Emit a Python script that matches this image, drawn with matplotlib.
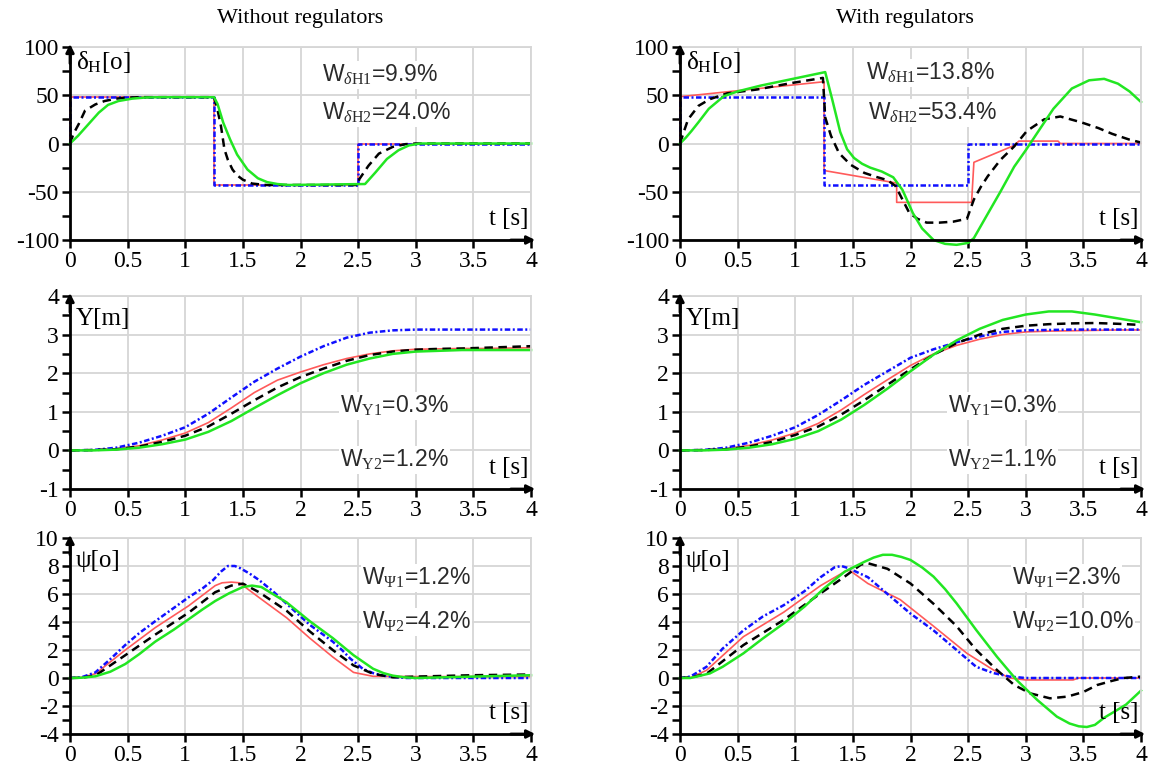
import matplotlib.pyplot as plt
import numpy as np

# ---- data ----
time_ticks = [0, 0.5, 1, 1.5, 2, 2.5, 3, 3.5, 4]
time_labels = ['0', '0.5', '1', '1.5', '2', '2.5', '3', '3.5', '4']

# delta_H, without regulators
dl_blue_t = [0, 0, 1.25, 1.25, 2.5, 2.5, 4]
dl_blue_v = [0, 48, 48, -43, -43, 0, 0]
dl_red_t = [0, 0, 1.25, 1.25, 2.5, 2.5, 4]
dl_red_v = [0, 48, 48, -43, -43, 0, 0]
dl_black_t = [0, 0.03, 0.075, 0.13, 0.22, 0.3, 0.4, 0.5, 0.6, 1.25, 1.28, 1.31, 1.34, 1.37, 1.41,
              1.45, 1.5, 1.58, 1.7, 2.5, 2.51, 2.59, 2.68, 2.8, 2.91, 3.0, 4.0]
dl_black_v = [0, 10, 20, 34, 40.5, 44, 46.5, 47.5, 48, 48, 35, 18, -6, -17, -27,
              -33, -37.5, -41.5, -43, -43, -37, -23, -10.5, -3.5, -0.7, 0, 0]
dl_green_t = [0, 0.07, 0.16, 0.25, 0.33, 0.42, 0.54, 0.66, 0.8, 1.25, 1.28, 1.33, 1.39, 1.45, 1.54,
              1.63, 1.71, 1.8, 1.9, 2.56, 2.65, 2.75, 2.85, 2.94, 3.04, 4.0]
dl_green_v = [0, 8, 20, 32, 40, 44, 46.5, 47.7, 48, 48, 41, 21.5, 4, -11.5, -27,
              -36, -40, -42, -43, -42, -30, -16, -7, -2, 0, 0]

# delta_H, with regulators
dr_blue_t = [0, 0, 1.25, 1.25, 2.5, 2.5, 4]
dr_blue_v = [0, 48, 48, -43, -43, 0, 0]
dr_red_t = [0, 0, 1.25, 1.25, 1.88, 1.88, 2.53, 2.55, 2.9, 2.94, 3.28, 3.3, 4]
dr_red_v = [0, 48.5, 64, -28, -41, -61, -61, -19.5, -2, 2.5, 2.5, 0, 0]
dr_black_t = [0, 0.03, 0.07, 0.16, 0.26, 0.41, 0.67, 0.96, 1.19, 1.24, 1.26, 1.31, 1.38, 1.48, 1.6,
              1.7, 1.8, 1.87, 1.93, 1.99, 2.06, 2.14, 2.25, 2.37, 2.49, 2.55, 2.61, 2.67, 2.78,
              2.9, 3.01, 3.16, 3.3, 3.48, 3.63, 3.75, 3.9, 4.0]
dr_black_v = [0, 11, 25, 39, 46, 52, 56, 62.5, 67, 68, 27, 8, -10, -22, -30.5,
              -34.5, -38, -44, -58, -72, -78, -82, -82, -81, -78, -58, -45, -34, -17,
              -3, 13, 25, 28, 22, 16, 10, 4, 1]
dr_green_t = [0, 0.05, 0.1, 0.16, 0.25, 0.38, 0.5, 0.7, 0.9, 1.1, 1.22, 1.26, 1.32, 1.39, 1.45,
              1.51, 1.58, 1.65, 1.75, 1.85, 1.93, 2.02, 2.1, 2.2, 2.3, 2.4, 2.5, 2.55, 2.66,
              2.78, 2.9, 3.0, 3.1, 3.24, 3.4, 3.55, 3.68, 3.8, 3.9, 4.0]
dr_green_v = [0, 6, 13, 22, 36, 49, 54, 60, 65, 70, 73, 74, 46, 12, -6,
              -15, -21, -25, -29, -35, -48, -72, -88, -100, -104, -105, -103, -98, -75,
              -50, -24, -7, 11, 36, 57, 65.5, 67, 62, 54, 43]

# Y, without / with regulators (same sampling times)
y_t = [0, 0.2, 0.4, 0.6, 0.8, 1.0, 1.2, 1.4, 1.6, 1.8, 2.0, 2.2, 2.4, 2.6, 2.8, 3.0, 3.2, 3.4, 3.6, 3.8, 4.0]
yl_blue = [0, 0.01, 0.07, 0.2, 0.38, 0.6, 0.95, 1.37, 1.78, 2.12, 2.43, 2.7, 2.92, 3.05, 3.11, 3.13, 3.13, 3.13, 3.13, 3.13, 3.13]
yl_red = [0, 0.01, 0.04, 0.12, 0.27, 0.45, 0.72, 1.1, 1.5, 1.82, 2.03, 2.22, 2.38, 2.5, 2.58, 2.62, 2.63, 2.64, 2.64, 2.65, 2.66]
yl_black = [0, 0.01, 0.03, 0.1, 0.22, 0.38, 0.62, 0.95, 1.3, 1.63, 1.9, 2.12, 2.32, 2.47, 2.56, 2.61, 2.63, 2.64, 2.66, 2.68, 2.7]
yl_green = [0, 0.0, 0.02, 0.07, 0.16, 0.28, 0.48, 0.76, 1.1, 1.43, 1.74, 2.0, 2.22, 2.38, 2.5, 2.56, 2.58, 2.6, 2.6, 2.6, 2.6]
yr_blue = [0, 0.01, 0.07, 0.2, 0.38, 0.6, 0.92, 1.3, 1.7, 2.05, 2.4, 2.62, 2.8, 2.95, 3.07, 3.11, 3.12, 3.13, 3.13, 3.13, 3.13]
yr_red = [0, 0.01, 0.04, 0.13, 0.27, 0.45, 0.7, 1.05, 1.45, 1.83, 2.2, 2.5, 2.72, 2.88, 3.0, 3.07, 3.09, 3.1, 3.11, 3.12, 3.12]
yr_black = [0, 0.01, 0.03, 0.1, 0.22, 0.4, 0.62, 0.93, 1.3, 1.7, 2.1, 2.48, 2.78, 3.0, 3.15, 3.23, 3.27, 3.29, 3.3, 3.28, 3.25]
yr_green = [0, 0.0, 0.02, 0.07, 0.16, 0.3, 0.5, 0.8, 1.18, 1.6, 2.05, 2.48, 2.85, 3.15, 3.38, 3.52, 3.6, 3.6, 3.52, 3.42, 3.32]

# psi, without regulators
pl_blue_t = [0, 0.1, 0.22, 0.35, 0.48, 0.6, 0.74, 0.9, 1.03, 1.15, 1.24, 1.31, 1.37, 1.43, 1.48, 1.56,
             1.64, 1.76, 1.88, 2.0, 2.08, 2.18, 2.28, 2.36, 2.43, 2.54, 2.63, 2.72, 2.82, 2.92, 4.0]
pl_blue_v = [0, 0.05, 0.4, 1.35, 2.36, 3.2, 4.06, 5.0, 5.77, 6.4, 6.98, 7.6, 8.0, 8.0, 7.83, 7.45,
             7.0, 6.2, 5.3, 4.4, 3.8, 3.2, 2.6, 2.0, 1.4, 0.66, 0.35, 0.17, 0.06, 0, 0]
pl_red_t = [0, 0.1, 0.22, 0.48, 0.74, 1.03, 1.26, 1.32, 1.4, 1.47, 1.64, 1.88, 2.08, 2.28, 2.46, 2.63, 3.0, 4.0]
pl_red_v = [0, 0.05, 0.3, 2.0, 3.6, 5.16, 6.6, 6.8, 6.85, 6.8, 5.75, 4.3, 2.85, 1.5, 0.4, 0.12, 0.1, 0.1]
pl_black_t = [0, 0.1, 0.22, 0.48, 0.74, 1.03, 1.26, 1.4, 1.5, 1.64, 1.88, 2.08, 2.28, 2.46, 2.63, 2.8, 3.0, 3.5, 4.0]
pl_black_v = [0, 0.02, 0.17, 1.63, 3.1, 4.67, 6.13, 6.6, 6.74, 6.13, 4.8, 3.33, 2.0, 0.9, 0.3, 0.05, 0.1, 0.2, 0.25]
pl_green_t = [0, 0.1, 0.22, 0.35, 0.48, 0.6, 0.74, 0.9, 1.03, 1.15, 1.26, 1.38, 1.5, 1.58, 1.66, 1.76, 1.88,
              2.08, 2.28, 2.46, 2.63, 2.72, 2.8, 2.9, 3.0, 3.5, 4.0]
pl_green_v = [0, 0.02, 0.12, 0.45, 1.0, 1.7, 2.6, 3.45, 4.2, 4.9, 5.5, 6.05, 6.5, 6.6, 6.5, 6.0, 5.4,
              4.06, 2.85, 1.63, 0.66, 0.35, 0.17, 0.05, 0.0, 0.1, 0.2]

# psi, with regulators
pr_blue_t = [0, 0.09, 0.23, 0.37, 0.55, 0.72, 0.9, 1.08, 1.22, 1.34, 1.4, 1.46, 1.63, 1.8, 2.0, 2.2,
             2.4, 2.57, 2.72, 2.86, 3.0, 4.0]
pr_blue_v = [0, 0.1, 0.8, 2.1, 3.4, 4.4, 5.2, 6.2, 7.2, 7.9, 8.0, 7.85, 7.2, 6.0, 4.6, 3.4,
             2.0, 0.8, 0.35, 0.1, 0, 0]
pr_red_t = [0, 0.1, 0.23, 0.55, 0.9, 1.22, 1.43, 1.47, 1.63, 1.91, 2.2, 2.49, 2.72, 2.86, 3.0, 3.41, 3.46, 4.0]
pr_red_v = [0, 0.05, 0.55, 2.95, 4.7, 6.6, 7.6, 7.7, 6.75, 5.6, 3.7, 1.76, 0.57, 0, -0.14, -0.14, 0, 0]
pr_black_t = [0, 0.1, 0.23, 0.55, 0.9, 1.22, 1.43, 1.57, 1.63, 1.8, 2.0, 2.2, 2.4, 2.57, 2.75, 2.9, 3.04,
              3.21, 3.36, 3.5, 3.62, 3.75, 3.85, 4.0]
pr_black_v = [0, 0.05, 0.3, 2.35, 4.15, 6.05, 7.25, 8.1, 8.2, 7.8, 6.75, 5.3, 3.7, 2.0, 0.57, -0.5, -1.1,
              -1.45, -1.33, -1.0, -0.5, -0.2, 0, 0.1]
pr_green_t = [0, 0.09, 0.26, 0.37, 0.55, 0.72, 0.9, 1.08, 1.25, 1.43, 1.6, 1.68, 1.76, 1.84, 1.92, 2.0,
              2.1, 2.2, 2.3, 2.4, 2.57, 2.75, 2.92, 3.1, 3.27, 3.38, 3.46, 3.53, 3.6, 3.68, 3.78,
              3.87, 4.0]
pr_green_v = [0, 0, 0.33, 0.8, 1.76, 2.83, 3.9, 5.1, 6.4, 7.6, 8.3, 8.6, 8.8, 8.8, 8.65, 8.43,
              7.9, 7.24, 6.35, 5.33, 3.43, 1.52, -0.14, -1.57, -2.76, -3.25, -3.45, -3.5, -3.35, -2.84, -2.35,
              -1.9, -0.9]

plt.rcParams['font.family'] = 'Liberation Serif'
plt.rcParams['mathtext.fontset'] = 'custom'
plt.rcParams['mathtext.rm'] = 'Liberation Serif'
plt.rcParams['mathtext.it'] = 'Liberation Serif:italic'
plt.rcParams['axes.unicode_minus'] = False

W, H = 1153, 772
fig = plt.figure(figsize=(W / 100, H / 100), dpi=100)


def box(x0, x1, y0, y1):
    return [x0 / W, 1 - y1 / H, (x1 - x0) / W, (y1 - y0) / H]


def setup(ax, ylim, major, minor):
    ax.set_xlim(0, 4)
    ax.set_ylim(*ylim)
    ax.set_xticks(time_ticks)
    ax.set_xticklabels(time_labels)
    ax.set_yticks(major)
    ax.set_yticklabels([str(v) for v in major])
    ax.set_yticks(minor, minor=True)
    ax.grid(True, which='major', color='#d6d6d6', lw=1.3)
    ax.set_axisbelow(True)
    for s in ['top', 'right']:
        ax.spines[s].set_color('#d6d6d6')
        ax.spines[s].set_linewidth(1.3)
    for s in ['left', 'bottom']:
        ax.spines[s].set_color('black')
        ax.spines[s].set_linewidth(2)
    ax.tick_params(which='both', direction='out', length=6, width=1.8, labelsize=17, pad=2)
    ax.annotate('', xy=(0, 1.03), xytext=(0, 0.9), xycoords='axes fraction',
                arrowprops=dict(arrowstyle='-|>', lw=2, color='black', mutation_scale=12))
    ax.annotate('', xy=(1.015, 0), xytext=(0.95, 0), xycoords='axes fraction',
                arrowprops=dict(arrowstyle='-|>', lw=2, color='black', mutation_scale=12))
    ax.text(0.995, 0.05, 't [s]', transform=ax.transAxes, ha='right', va='bottom', fontsize=18)


def draw(ax, series):
    (rt, rv), (bt, bv), (kt, kv), (gt, gv) = series
    ax.plot(rt, rv, color='#ff5a5a', lw=1.2, clip_on=False)
    ax.plot(bt, bv, color='#1010ff', lw=1.8, ls=(0, (2.2, 1.0, 0.8, 1.0)), clip_on=False)
    ax.plot(kt, kv, color='black', lw=1.8, ls=(0, (3.4, 2.2)), clip_on=False)
    ax.plot(gt, gv, color='#22e622', lw=1.8, clip_on=False)


lx0, lx1, rx0, rx1 = 70, 531, 680, 1141
rows = [(47, 240), (296, 489), (538, 734)]

ax1 = fig.add_axes(box(lx0, lx1, *rows[0]))
ax2 = fig.add_axes(box(rx0, rx1, *rows[0]))
ax3 = fig.add_axes(box(lx0, lx1, *rows[1]))
ax4 = fig.add_axes(box(rx0, rx1, *rows[1]))
ax5 = fig.add_axes(box(lx0, lx1, *rows[2]))
ax6 = fig.add_axes(box(rx0, rx1, *rows[2]))

for ax in (ax1, ax2):
    setup(ax, (-100, 100), [-100, -50, 0, 50, 100], np.arange(-100, 101, 25))
    ax.text(0.012, 0.99, 'δ$_\\mathrm{H}$[o]', transform=ax.transAxes, ha='left', va='top', fontsize=18)
for ax in (ax3, ax4):
    setup(ax, (-1, 4), [-1, 0, 1, 2, 3, 4], np.arange(-1, 4.01, 0.5))
    ax.text(0.012, 0.94, 'Y[m]', transform=ax.transAxes, ha='left', va='top', fontsize=18)
for ax in (ax5, ax6):
    setup(ax, (-4, 10), [-4, -2, 0, 2, 4, 6, 8, 10], np.arange(-4, 10.01, 1))
    ax.text(0.012, 0.94, 'ψ[o]', transform=ax.transAxes, ha='left', va='top', fontsize=18)

draw(ax1, [(dl_red_t, dl_red_v), (dl_blue_t, dl_blue_v), (dl_black_t, dl_black_v), (dl_green_t, dl_green_v)])
draw(ax2, [(dr_red_t, dr_red_v), (dr_blue_t, dr_blue_v), (dr_black_t, dr_black_v), (dr_green_t, dr_green_v)])
draw(ax3, [(y_t, yl_red), (y_t, yl_blue), (y_t, yl_black), (y_t, yl_green)])
draw(ax4, [(y_t, yr_red), (y_t, yr_blue), (y_t, yr_black), (y_t, yr_green)])
draw(ax5, [(pl_red_t, pl_red_v), (pl_blue_t, pl_blue_v), (pl_black_t, pl_black_v), (pl_green_t, pl_green_v)])
draw(ax6, [(pr_red_t, pr_red_v), (pr_blue_t, pr_blue_v), (pr_black_t, pr_black_v), (pr_green_t, pr_green_v)])

fig.text(300 / W, 1 - 18 / H, 'Without regulators', ha='center', va='center', fontsize=16)
fig.text(905 / W, 1 - 18 / H, 'With regulators', ha='center', va='center', fontsize=16)

notes = [
    (322, 75, 'W$_{\\delta\\mathrm{H1}}$=9.9%'),
    (322, 113, 'W$_{\\delta\\mathrm{H2}}$=24.0%'),
    (866, 73, 'W$_{\\delta\\mathrm{H1}}$=13.8%'),
    (868, 113, 'W$_{\\delta\\mathrm{H2}}$=53.4%'),
    (340, 406, 'W$_\\mathrm{Y1}$=0.3%'),
    (340, 460, 'W$_\\mathrm{Y2}$=1.2%'),
    (948, 406, 'W$_\\mathrm{Y1}$=0.3%'),
    (948, 460, 'W$_\\mathrm{Y2}$=1.1%'),
    (362, 578, 'W$_{\\Psi\\mathrm{1}}$=1.2%'),
    (362, 622, 'W$_{\\Psi\\mathrm{2}}$=4.2%'),
    (1012, 578, 'W$_{\\Psi\\mathrm{1}}$=2.3%'),
    (1012, 622, 'W$_{\\Psi\\mathrm{2}}$=10.0%'),
]
for x, y, s in notes:
    fig.text(x / W, 1 - y / H, s, ha='left', va='center', fontsize=16.5, family='Liberation Sans',
             color='#2a2a2a', bbox=dict(fc='white', ec='none', pad=1))

fig.savefig('out.png', dpi=100)
